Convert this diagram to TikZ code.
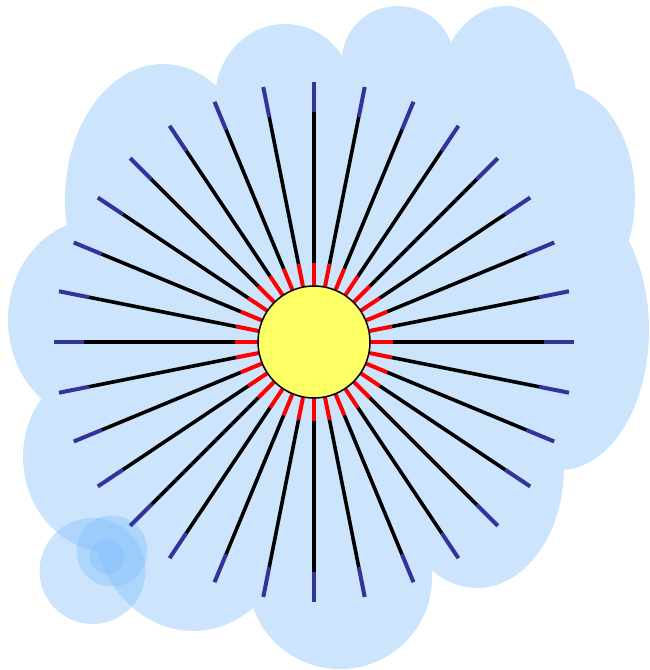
\documentclass[tikz,border=0pt]{standalone}
\definecolor{cloudblue}{RGB}{128,190,250}
\definecolor{raynavy}{RGB}{51,51,153}
\definecolor{sunyellow}{RGB}{255,255,102}
\begin{document}
\begin{tikzpicture}[
  x=1pt, y=-1pt,
  puff/.style={fill=cloudblue, fill opacity=0.4},
  sun/.style={circle, draw, line width=1.5pt, fill=sunyellow, minimum size=112pt, inner sep=0pt},
  rayroot/.style={red, line width=4pt},
  raybody/.style={black, line width=3.6pt},
  raytip/.style={raynavy, line width=4pt}
]
\useasboundingbox (0,0) rectangle (650,670);
\fill[puff] (320,340) ellipse [x radius=220, y radius=230]
  (400,150) ellipse [x radius=70, y radius=100]
  (163,200) ellipse [x radius=98, y radius=136]
  (285,99) ellipse [x radius=70, y radius=75]
  (398,60) ellipse [x radius=56, y radius=54]
  (505,116) ellipse [x radius=73, y radius=110]
  (560,197) ellipse [x radius=75, y radius=111]
  (560,330) ellipse [x radius=89, y radius=140]
  (477,467) ellipse [x radius=87, y radius=121]
  (340,578) ellipse [x radius=92, y radius=91]
  (193,513) ellipse [x radius=101, y radius=118]
  (110,457) ellipse [x radius=87, y radius=95]
  (95,320) ellipse [x radius=87, y radius=100];
\fill[puff] (92.5,571) circle [radius=53];
\fill[puff] (112,551) circle [radius=35.5];
\fill[puff] (107,556.5) circle [radius=17.5];
\coordinate (centre) at (314,342);
\foreach \a in {0,11.25,...,348.75} {
  \draw[raybody] (centre) ++(\a:79) -- ++(\a:151);
  \draw[raytip] (centre) ++(\a:230) -- ++(\a:30);
  \draw[rayroot] (centre) ++(\a:56) -- ++(\a:23);
}
\node[sun] (sun) at (centre) {};
\end{tikzpicture}
\end{document}
